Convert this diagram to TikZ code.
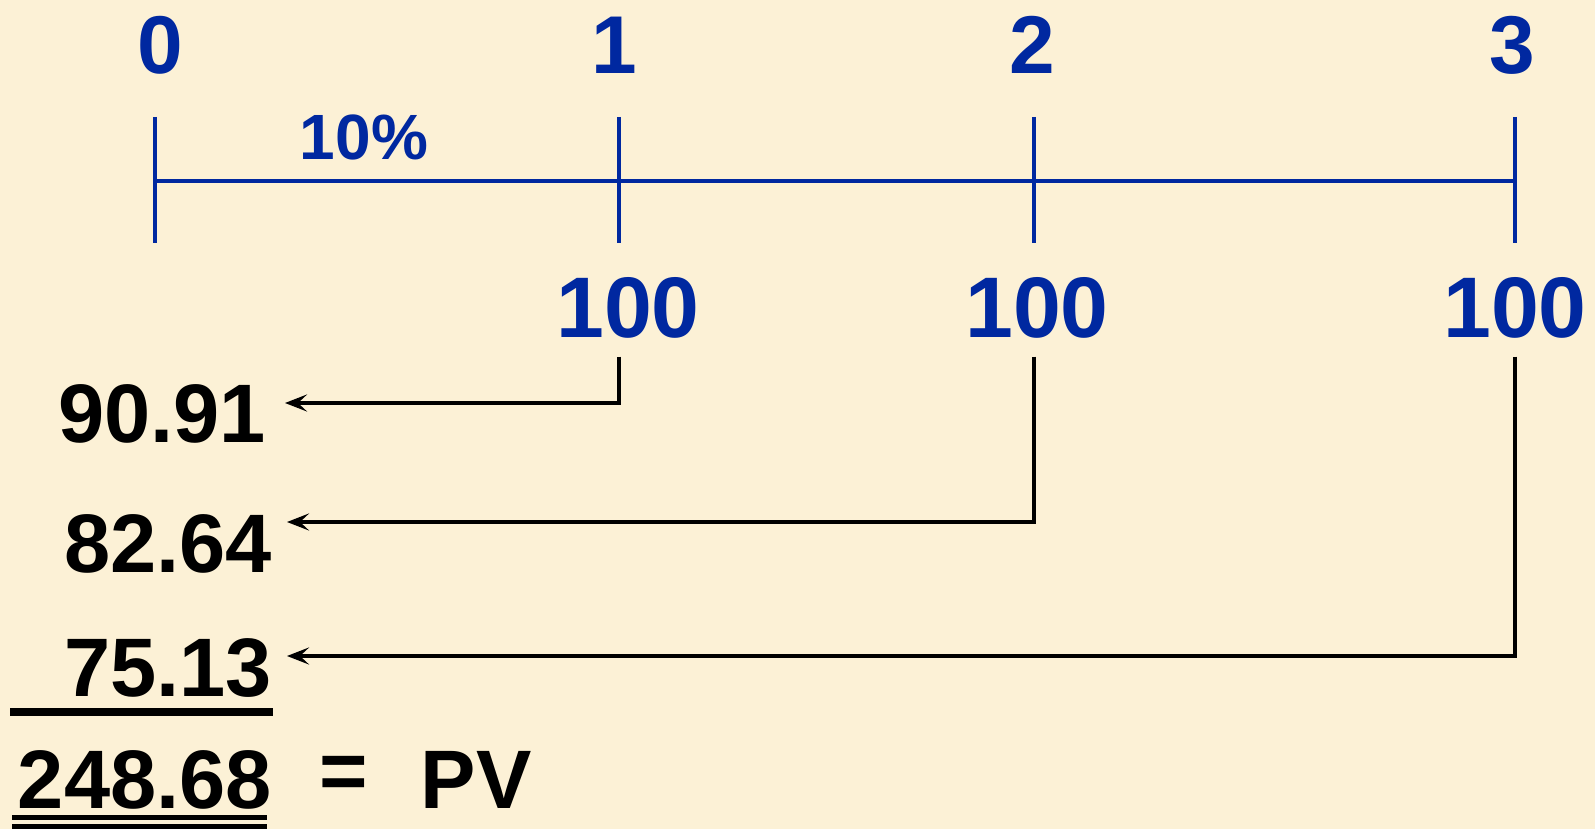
\documentclass[tikz,border=0pt]{standalone}
\usepackage{fontspec}
\setmainfont{Liberation Sans}
\usetikzlibrary{arrows.meta}
\definecolor{bg}{RGB}{252,241,214}
\definecolor{tlblue}{RGB}{0,40,160}
\tikzset{
  lbl/.style={inner sep=0pt, font=\bfseries\fontsize{82}{82}\selectfont, text=tlblue},
  pct/.style={inner sep=0pt, font=\bfseries\fontsize{64}{64}\selectfont, text=tlblue},
  cf/.style={inner sep=0pt, font=\bfseries\fontsize{86}{86}\selectfont, text=tlblue},
  pv/.style={inner sep=0pt, font=\bfseries\fontsize{83}{83}\selectfont, text=black},
  axis/.style={draw=tlblue, line width=4.5pt},
  arr/.style={draw=black, line width=4.5pt, -{Stealth[length=22pt,width=17pt,inset=9pt]}},
  rule/.style={draw=black},
}
\begin{document}
\begin{tikzpicture}[x=1pt,y=-1pt]
\fill[bg] (0,0) rectangle (1595,829);
\useasboundingbox (0,0) rectangle (1595,829);
% tick coordinates
\coordinate (tk0) at (155,181);
\coordinate (tk1) at (619,181);
\coordinate (tk2) at (1034,181);
\coordinate (tk3) at (1515,181);
% axis
\draw[axis] (tk0) -- (tk3);
\foreach \i in {0,1,2,3} \draw[axis] ([yshift=64pt]tk\i) -- ([yshift=-62pt]tk\i);
% period labels
\node[lbl] (p0) at (160,45) {0};
\node[lbl] (p1) at (614,45) {1};
\node[lbl] (p2) at (1032,45) {2};
\node[lbl] (p3) at (1512,45) {3};
\node[pct] (r) at (364,137) {10\%};
% cash flows
\node[cf] (h1) at (628,308) {100};
\node[cf] (h2) at (1037,308) {100};
\node[cf] (h3) at (1515,308) {100};
% present values
\node[pv, anchor=east] (v1) at (266,414) {90.91};
\node[pv, anchor=east] (v2) at (272,544) {82.64};
\node[pv, anchor=east] (v3) at (272,668) {75.13};
\node[pv, anchor=east] (v4) at (272,780) {248.68};
\node[pv] (eq) at (344,778) {=};
\node[pv] (pvt) at (476,780) {PV};
% arrows
\draw[arr] ([yshift=-18pt]h1.south -| tk1) |- ([xshift=19pt,yshift=11pt]v1.east);
\draw[arr] ([yshift=-18pt]h2.south -| tk2) |- ([xshift=15pt,yshift=22pt]v2.east);
\draw[arr] ([yshift=-18pt]h3.south -| tk3) |- ([xshift=15pt,yshift=12pt]v3.east);
% underlines
\draw[rule, line width=8pt] (10,712) -- (273,712);
\draw[rule, line width=5pt] (12,817) -- (267,817);
\draw[rule, line width=5pt] (12,826) -- (267,826);
\end{tikzpicture}
\end{document}
